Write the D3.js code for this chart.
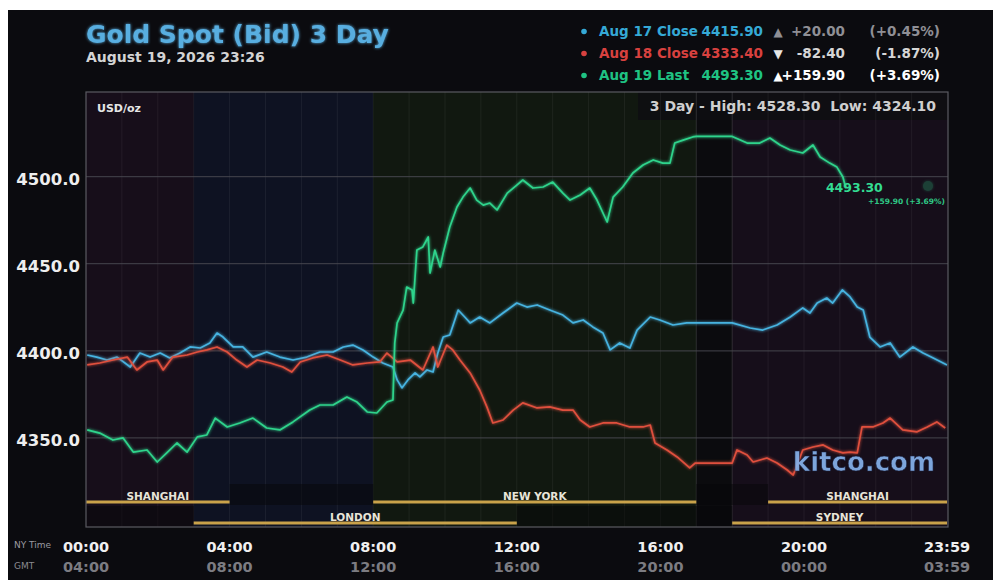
<!DOCTYPE html>
<html><head><meta charset="utf-8">
<script src="https://cdn.jsdelivr.net/npm/d3@7/dist/d3.min.js"></script>
<style>
html,body{margin:0;padding:0;background:#fff;}
svg{display:block;font-family:"DejaVu Sans",Verdana,sans-serif;}
</style></head>
<body>
<svg id="chart" width="1000" height="588"></svg>
<script>
// ---------- DATA ----------
const titleText = "Gold Spot (Bid) 3 Day";
const subtitleText = "August 19, 2026 23:26";
const rangeText = "3 Day - High: 4528.30  Low: 4324.10";

const yTicks = [4350, 4400, 4450, 4500];
const nyTicks = ["00:00","04:00","08:00","12:00","16:00","20:00","23:59"];
const gmtTicks = ["04:00","08:00","12:00","16:00","20:00","00:00","03:59"];

const legendLabels = ["Aug 17 Close", "Aug 18 Close", "Aug 19 Last"];
const legendValues = ["4415.90", "4333.40", "4493.30"];
const legendArrows = ["▲", "▼", "▲"];
const legendChanges = ["+20.00", "-82.40", "+159.90"];
const legendPcts = ["(+0.45%)", "(-1.87%)", "(+3.69%)"];

const aug17Times = ["00:02","00:18","00:35","00:52","01:14","01:30","01:47","02:04","02:20","02:37","02:54","03:11","03:27","03:39","03:49","04:06","04:22","04:39","05:02","05:24","05:46","06:09","06:31","06:53","07:10","07:26","07:43","08:00","08:16","08:33","08:40","08:48","08:58","09:10","09:18","09:30","09:40","09:48","09:57","10:08","10:22","10:33","10:42","10:58","11:15","11:37","12:00","12:17","12:34","12:55","13:17","13:34","13:51","14:07","14:24","14:36","14:52","15:09","15:21","15:43","15:59","16:21","16:44","17:00","18:00","18:30","18:51","19:15","19:37","19:58","20:10","20:22","20:38","20:48","21:04","21:17","21:29","21:39","21:50","22:07","22:24","22:40","23:02","23:19","23:36","23:59"];
const aug17Values = [4397.6,4396.4,4394.7,4396.4,4390.7,4398.7,4396.4,4398.7,4395.9,4398.7,4402.2,4401.6,4404.5,4410.2,4407.9,4402.2,4402.2,4396.4,4399.3,4396.4,4394.7,4396.4,4399.3,4399.3,4402.2,4403.3,4400.5,4396.4,4393.0,4390.7,4383.3,4378.7,4383.3,4387.3,4385.0,4389.0,4387.8,4398.7,4407.9,4409.1,4423.4,4419.4,4416.0,4419.4,4416.0,4421.7,4427.4,4425.1,4426.3,4423.4,4420.5,4416.0,4417.7,4413.7,4410.2,4400.5,4404.5,4401.6,4411.9,4419.4,4417.7,4414.8,4416.0,4416.0,4416.0,4413.1,4411.9,4414.8,4419.4,4424.6,4421.7,4427.4,4430.3,4427.4,4434.9,4430.9,4425.1,4423.4,4407.9,4402.2,4404.5,4396.4,4402.2,4398.7,4395.9,4391.9];

const aug18Times = ["00:02","00:23","00:45","01:09","01:25","01:42","01:59","02:09","02:25","02:49","03:06","03:22","03:39","03:56","04:12","04:29","04:46","05:08","05:29","05:44","05:58","06:19","06:43","07:05","07:26","07:50","08:11","08:23","08:40","09:02","09:23","09:40","09:48","10:03","10:13","10:25","10:42","10:58","11:10","11:20","11:37","11:54","12:10","12:34","12:55","13:17","13:34","13:46","14:02","14:24","14:47","15:09","15:31","15:43","15:51","16:11","16:28","16:49","16:58","18:00","18:08","18:25","18:35","18:58","19:15","19:32","19:42","19:58","20:15","20:32","20:48","21:05","21:17","21:29","21:37","21:55","22:12","22:24","22:45","23:09","23:26","23:42","23:56"];
const aug18Values = [4391.9,4393.0,4394.7,4396.4,4389.0,4393.6,4394.7,4389.0,4396.4,4397.6,4399.3,4400.5,4402.2,4399.3,4394.7,4390.7,4394.7,4393.0,4390.7,4387.8,4393.6,4395.9,4397.6,4394.7,4391.9,4393.0,4393.6,4398.7,4393.6,4394.7,4389.0,4402.2,4390.7,4403.3,4400.5,4394.7,4387.3,4377.5,4367.8,4358.6,4360.3,4366.0,4370.1,4367.2,4367.8,4366.0,4366.0,4360.3,4356.3,4358.6,4358.6,4356.3,4356.3,4357.4,4347.1,4343.1,4339.1,4332.8,4335.6,4335.6,4343.1,4340.2,4336.2,4338.5,4335.6,4331.6,4328.7,4343.1,4344.8,4346.0,4343.1,4341.4,4341.9,4341.4,4356.3,4356.3,4358.6,4361.4,4354.6,4353.5,4356.3,4359.2,4355.7];

const aug19Times = ["00:02","00:23","00:45","01:02","01:19","01:42","01:59","02:15","02:32","02:49","03:06","03:22","03:36","03:56","04:17","04:39","05:02","05:24","05:46","06:14","06:31","06:53","07:16","07:33","07:50","08:06","08:23","08:33","08:36","08:40","08:50","08:56","09:05","09:07","09:13","09:23","09:32","09:35","09:43","09:52","09:57","10:08","10:20","10:30","10:42","10:53","11:04","11:15","11:27","11:44","12:00","12:10","12:27","12:44","13:00","13:17","13:29","13:46","14:02","14:14","14:31","14:41","14:57","15:14","15:31","15:48","16:04","16:16","16:24","16:38","16:54","17:00","18:00","18:25","18:46","19:03","19:20","19:37","19:58","20:15","20:27","20:43","20:55","21:05","21:10"];
const aug19Values = [4354.6,4352.8,4348.8,4350.0,4341.9,4343.1,4336.2,4341.4,4347.1,4341.9,4350.6,4351.7,4361.4,4356.3,4358.6,4361.4,4355.7,4354.6,4359.2,4366.0,4368.9,4368.9,4373.5,4370.6,4364.9,4364.3,4370.6,4371.8,4404.5,4416.0,4423.4,4436.6,4434.9,4427.4,4457.8,4459.6,4465.3,4444.6,4457.8,4448.1,4456.1,4471.0,4482.5,4488.2,4493.4,4486.5,4483.6,4484.8,4480.8,4490.5,4495.1,4498.0,4493.4,4494.0,4496.8,4490.5,4486.5,4489.4,4493.4,4486.5,4473.9,4488.2,4494.0,4502.0,4506.6,4509.5,4507.7,4507.7,4519.2,4520.9,4522.7,4523.0,4523.0,4519.2,4519.2,4522.1,4518.1,4515.2,4513.5,4518.1,4511.2,4507.7,4505.4,4499.7,4493.3];

const endLabel = "4493.30";
const endSubLabel = "+159.90 (+3.69%)";

// background bands (NY time)
const bandStarts = ["00:00","03:00","08:00","17:00","18:00"];
const bandEnds   = ["03:00","08:00","17:00","18:00","23:59"];
// sessions
const sessionNames = ["SHANGHAI","NEW YORK","SHANGHAI","LONDON","SYDNEY"];
const sessionStarts = ["00:00","08:00","19:00","03:00","18:00"];
const sessionEnds   = ["04:00","17:00","23:59","12:00","23:59"];
const sessionRows   = [0,0,0,1,1];
const gapStarts = ["04:00","17:00","00:00","12:00"];
const gapEnds   = ["08:00","19:00","03:00","18:00"];
const gapRows   = [0,0,1,1];
const hourLines = ["01:00","02:00","03:00","04:00","05:00","06:00","07:00","08:00","09:00","10:00","11:00","12:00","13:00","14:00","15:00","16:00","17:00","18:00","19:00","20:00","21:00","22:00","23:00"];

// ---------- STYLE ----------
const seriesColors = ["#46b3e0", "#e0503e", "#2fd48c"];
const legendColors = ["#35a9d6", "#d8413f", "#1fc383"];
const bandColors = ["#170e1a", "#0e1222", "#111810", "#0b0b0e", "#160e1a"];

const svg = d3.select("#chart");
const parse = d3.timeParse("%H:%M");
const L = 86, R = 947, T = 92, B = 527;

const x = d3.scaleTime().domain([parse("00:00"), parse("23:59")]).range([L, R]);
const y = d3.scaleLinear().domain([4298.9, 4548.5]).range([B, T]);

// outer panel
svg.append("rect").attr("x", 8).attr("y", 10).attr("width", 985).attr("height", 570).attr("fill", "#0b0b0f");

// defs: glow
const defs = svg.append("defs");
const f = defs.append("filter").attr("id", "glow").attr("x", "-20%").attr("y", "-20%").attr("width", "140%").attr("height", "140%");
f.append("feGaussianBlur").attr("stdDeviation", 1.6).attr("result", "b");
const fm = f.append("feMerge");
fm.append("feMergeNode").attr("in", "b");
fm.append("feMergeNode").attr("in", "SourceGraphic");
defs.append("clipPath").attr("id", "plotclip").append("rect").attr("x", L).attr("y", T).attr("width", 948 - L).attr("height", B - T);

// bands
const plotG = svg.append("g").attr("clip-path", "url(#plotclip)");
plotG.selectAll("rect.band").data(bandStarts).enter().append("rect")
  .attr("x", (d) => x(parse(d)))
  .attr("width", (d, i) => (i === bandStarts.length - 1 ? 948 : x(parse(bandEnds[i]))) - x(parse(d)))
  .attr("y", T).attr("height", B - T)
  .attr("fill", (d, i) => bandColors[i]);

// range label box
plotG.append("rect").attr("x", 638).attr("y", T).attr("width", 320).attr("height", 28).attr("fill", "#0e0e12").attr("opacity", 0.85);

// hourly vertical grid
plotG.selectAll("line.vg").data(hourLines).enter().append("line")
  .attr("x1", (d) => x(parse(d))).attr("x2", (d) => x(parse(d)))
  .attr("y1", T).attr("y2", B)
  .attr("stroke", "#ffffff")
  .attr("stroke-opacity", (d) => (d === "18:00" || d === "17:00") ? 0.14 : 0.06)
  .attr("stroke-width", 1);

// horizontal grid
plotG.selectAll("line.hg").data(yTicks).enter().append("line")
  .attr("x1", L).attr("x2", 948)
  .attr("y1", (d) => y(d)).attr("y2", (d) => y(d))
  .attr("stroke", "#4a4a52").attr("stroke-width", 1.2).attr("stroke-opacity", 0.75);

// session row gaps (darker)
const rowTop = [484, 506];
plotG.selectAll("rect.gap").data(gapStarts).enter().append("rect")
  .attr("x", (d) => x(parse(d)))
  .attr("width", (d, i) => x(parse(gapEnds[i])) - x(parse(d)))
  .attr("y", (d, i) => rowTop[gapRows[i]]).attr("height", 21)
  .attr("fill", "#060608").attr("opacity", 0.5);

// kitco watermark
svg.append("text").attr("x", 935).attr("y", 471).attr("text-anchor", "end")
  .attr("font-size", 26).attr("font-weight", "bold").attr("fill", "#86b2ec")
  .attr("stroke", "#1a2240").attr("stroke-width", 0.6).attr("opacity", 0.92)
  .text("kitco.com");

// series lines
const seriesTimes = [aug17Times, aug18Times, aug19Times];
const seriesValues = [aug17Values, aug18Values, aug19Values];
const line = d3.line().x((d) => x(parse(d[0]))).y((d) => y(d[1]));
seriesTimes.forEach((times, s) => {
  const pts = times.map((t, i) => [t, seriesValues[s][i]]);
  plotG.append("path").datum(pts).attr("d", line)
    .attr("fill", "none").attr("stroke", seriesColors[s]).attr("stroke-width", 1.7)
    .attr("stroke-linejoin", "round").attr("filter", "url(#glow)");
});

// session bars
const rowBar = [502, 523];
svg.selectAll("line.sess").data(sessionNames).enter().append("line")
  .attr("x1", (d, i) => x(parse(sessionStarts[i])))
  .attr("x2", (d, i) => x(parse(sessionEnds[i])))
  .attr("y1", (d, i) => rowBar[sessionRows[i]]).attr("y2", (d, i) => rowBar[sessionRows[i]])
  .attr("stroke", "#c9a24a").attr("stroke-width", 3);
svg.selectAll("text.sess").data(sessionNames).enter().append("text")
  .attr("x", (d, i) => (x(parse(sessionStarts[i])) + x(parse(sessionEnds[i]))) / 2)
  .attr("y", (d, i) => rowBar[sessionRows[i]] - 2)
  .attr("text-anchor", "middle").attr("font-size", 10.5).attr("font-weight", "bold")
  .attr("fill", "#e8e4d8").text((d) => d);

// plot frame
svg.append("rect").attr("x", L).attr("y", T).attr("width", 948 - L).attr("height", B - T)
  .attr("fill", "none").attr("stroke", "#5a5a62").attr("stroke-width", 1.2);

// y labels
svg.selectAll("text.yl").data(yTicks).enter().append("text")
  .attr("x", 80).attr("y", (d) => y(d) + 8).attr("text-anchor", "end")
  .attr("font-size", 16.5).attr("font-weight", "bold").attr("fill", "#eeeeee")
  .text((d) => d3.format(".1f")(d));

// x labels
svg.append("text").attr("x", 14).attr("y", 548).attr("font-size", 9).attr("fill", "#9a9aa0").text("NY Time");
svg.append("text").attr("x", 14).attr("y", 569).attr("font-size", 9).attr("fill", "#8a8a90").text("GMT");
svg.selectAll("text.nx").data(nyTicks).enter().append("text")
  .attr("x", (d) => x(parse(d))).attr("y", 552).attr("text-anchor", "middle")
  .attr("font-size", 14.5).attr("font-weight", "bold").attr("fill", "#f0f0f0").text((d) => d);
svg.selectAll("text.gx").data(nyTicks).enter().append("text")
  .attr("x", (d) => x(parse(d))).attr("y", 572).attr("text-anchor", "middle")
  .attr("font-size", 14.5).attr("font-weight", "bold").attr("fill", "#7c7c82").text((d, i) => gmtTicks[i]);

// title
svg.append("text").attr("x", 86).attr("y", 43).attr("font-size", 25).attr("font-weight", "bold")
  .attr("fill", "#58aee0").attr("filter", "url(#glow)").text(titleText);
svg.append("text").attr("x", 86).attr("y", 62).attr("font-size", 14).attr("font-weight", "bold")
  .attr("fill", "#d4d4d4").text(subtitleText);

// USD/oz & range
svg.append("text").attr("x", 97).attr("y", 112).attr("font-size", 11).attr("font-weight", "bold").attr("fill", "#e6e6e6").text("USD/oz");
svg.append("text").attr("x", 936).attr("y", 111).attr("text-anchor", "end").attr("font-size", 14).attr("font-weight", "bold")
  .attr("fill", "#cfcfcf").attr("xml:space", "preserve").text(rangeText);

// legend
const rowsY = [36, 58, 80];
const arrowColors = ["#8f8f95", "#e6e6e6", "#ffffff"];
const chgColors = ["#8f8f95", "#d6d6d6", "#ffffff"];
legendLabels.forEach((lab, i) => {
  const g = svg.append("g");
  g.append("circle").attr("cx", 584).attr("cy", rowsY[i] - 4.5).attr("r", 2.8).attr("fill", legendColors[i]);
  g.append("text").attr("x", 599).attr("y", rowsY[i]).attr("font-size", 13.5).attr("font-weight", "bold").attr("fill", legendColors[i]).text(lab);
  g.append("text").attr("x", 763).attr("y", rowsY[i]).attr("text-anchor", "end").attr("font-size", 13.5).attr("font-weight", "bold").attr("fill", legendColors[i]).text(legendValues[i]);
  g.append("text").attr("x", 778).attr("y", rowsY[i]).attr("text-anchor", "middle").attr("font-size", 12).attr("fill", arrowColors[i]).text(legendArrows[i]);
  g.append("text").attr("x", 845).attr("y", rowsY[i]).attr("text-anchor", "end").attr("font-size", 13.5).attr("font-weight", "bold").attr("fill", chgColors[i]).text(legendChanges[i]);
  g.append("text").attr("x", 940).attr("y", rowsY[i]).attr("text-anchor", "end").attr("font-size", 13.5).attr("font-weight", "bold").attr("fill", chgColors[i]).text(legendPcts[i]);
});

// end label
const lastT = aug19Times[aug19Times.length - 1];
const lastV = aug19Values[aug19Values.length - 1];
svg.append("circle").attr("cx", 928).attr("cy", 186).attr("r", 5).attr("fill", "#2fd48c").attr("opacity", 0.25).attr("filter", "url(#glow)");
svg.append("text").attr("x", x(parse(lastT)) - 20).attr("y", y(lastV) + 3.5).attr("font-size", 12.5).attr("font-weight", "bold")
  .attr("fill", "#33dc92").text(endLabel);
svg.append("text").attr("x", 945).attr("y", 204).attr("text-anchor", "end").attr("font-size", 7.5).attr("font-weight", "bold")
  .attr("fill", "#2fc886").text(endSubLabel);
</script>
</body></html>
